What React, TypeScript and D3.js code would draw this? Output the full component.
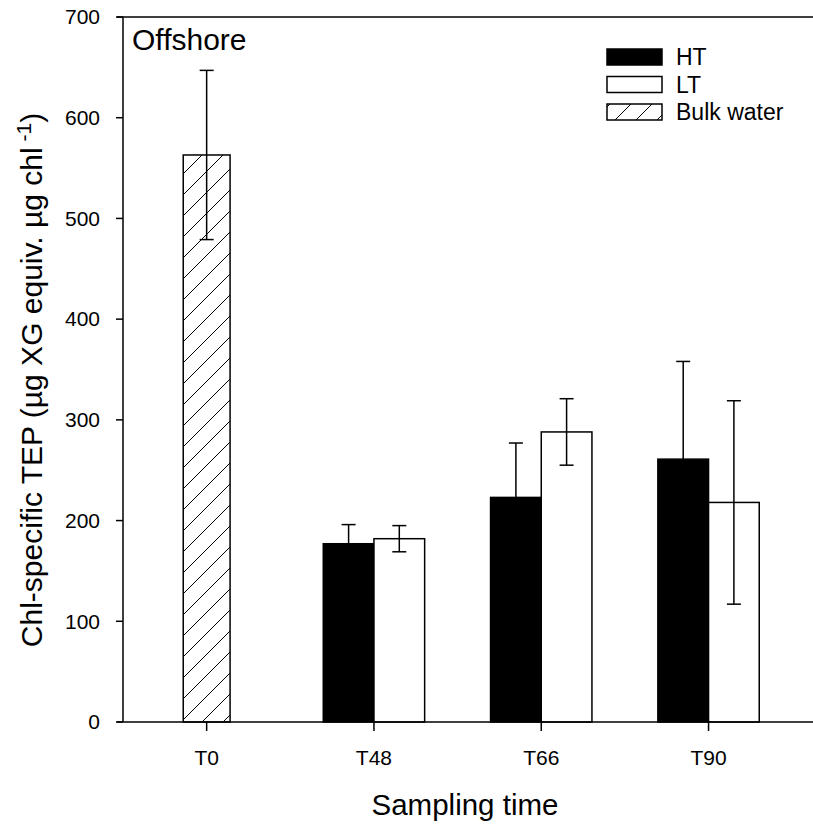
import React from "react";
import * as d3 from "d3";

// Sampling times and TEP values (µg XG equiv. µg chl-1), mean ± error
const categories = ["T0", "T48", "T66", "T90"];
const bulkMean: (number | null)[] = [563, null, null, null];
const bulkErr: (number | null)[] = [84, null, null, null];
const htMean: (number | null)[] = [null, 177, 223, 261];
const htErr: (number | null)[] = [null, 19, 54, 97];
const ltMean: (number | null)[] = [null, 182, 288, 218];
const ltErr: (number | null)[] = [null, 13, 33, 101];
const yTicks = [0, 100, 200, 300, 400, 500, 600, 700];
const legendItems = ["HT", "LT", "Bulk water"];

const W = 813;
const H = 827;
const margin = { left: 123, top: 17, bottomY: 722 };
const FONT = "'Liberation Sans', Arial, sans-serif";

export default function App() {
  const x = d3
    .scaleBand<string>()
    .domain(categories)
    .range([margin.left, margin.left + 4 * 167.3])
    .padding(0);
  const y = d3.scaleLinear().domain([0, 700]).range([margin.bottomY, margin.top]);
  const bw = x.bandwidth();
  const barW = bw * 0.303;
  const bulkW = bw * 0.28;
  const sub = d3.scaleBand<string>().domain(["HT", "LT"]).range([-barW, barW]);
  const cx = (c: string) => (x(c) ?? 0) + bw / 2;
  const capHalf = 7;

  const errorBar = (xc: number, m: number, e: number, key: string) => (
    <g key={key} stroke="#000" strokeWidth={1.5}>
      <line x1={xc} x2={xc} y1={y(m + e)} y2={y(m - e)} />
      <line x1={xc - capHalf} x2={xc + capHalf} y1={y(m + e)} y2={y(m + e)} />
      <line x1={xc - capHalf} x2={xc + capHalf} y1={y(m - e)} y2={y(m - e)} />
    </g>
  );

  const legendX = 607;
  const legendRowY = (i: number) => 57 + i * 27.5;

  return (
    <svg
      width={W}
      height={H}
      style={{ position: "absolute", left: 0, top: 0, background: "#fff" }}
      fontFamily={FONT}
    >
      <defs>
        <pattern id="hatch" patternUnits="userSpaceOnUse" width={21} height={21}>
          <rect width={21} height={21} fill="#fff" />
          <path
            d="M0,21 L21,0 M-5,5 L5,-5 M16,26 L26,16"
            stroke="#000"
            strokeWidth={1}
          />
        </pattern>
      </defs>

      {/* bars */}
      {categories.map((c, i) => {
        const xc = cx(c);
        const els: React.ReactNode[] = [];
        const b = bulkMean[i];
        if (b != null) {
          els.push(
            <rect
              key={"b" + i}
              x={xc - bulkW / 2}
              y={y(b)}
              width={bulkW}
              height={y(0) - y(b)}
              fill="url(#hatch)"
              stroke="#000"
              strokeWidth={1.5}
            />
          );
        }
        const h = htMean[i];
        if (h != null) {
          els.push(
            <rect
              key={"h" + i}
              x={xc + (sub("HT") ?? 0)}
              y={y(h)}
              width={sub.bandwidth()}
              height={y(0) - y(h)}
              fill="#000"
              stroke="#000"
              strokeWidth={1.5}
            />
          );
        }
        const l = ltMean[i];
        if (l != null) {
          els.push(
            <rect
              key={"l" + i}
              x={xc + (sub("LT") ?? 0)}
              y={y(l)}
              width={sub.bandwidth()}
              height={y(0) - y(l)}
              fill="#fff"
              stroke="#000"
              strokeWidth={1.5}
            />
          );
        }
        return <g key={c}>{els}</g>;
      })}

      {/* error bars */}
      {categories.map((c, i) => {
        const xc = cx(c);
        const out: React.ReactNode[] = [];
        if (bulkMean[i] != null && bulkErr[i] != null)
          out.push(errorBar(xc, bulkMean[i]!, bulkErr[i]!, "eb" + i));
        if (htMean[i] != null && htErr[i] != null)
          out.push(
            errorBar(xc + (sub("HT") ?? 0) + sub.bandwidth() / 2, htMean[i]!, htErr[i]!, "eh" + i)
          );
        if (ltMean[i] != null && ltErr[i] != null)
          out.push(
            errorBar(xc + (sub("LT") ?? 0) + sub.bandwidth() / 2, ltMean[i]!, ltErr[i]!, "el" + i)
          );
        return <g key={"e" + c}>{out}</g>;
      })}

      {/* frame lines */}
      <g stroke="#000" strokeWidth={1.5}>
        <line x1={117} x2={W} y1={y(700)} y2={y(700)} />
        <line x1={117} x2={W} y1={y(0)} y2={y(0)} />
        <line x1={margin.left} x2={margin.left} y1={y(700)} y2={y(0)} />
      </g>

      {/* y axis ticks and labels */}
      {yTicks.map((t) => (
        <g key={t}>
          <line x1={margin.left - 7} x2={margin.left} y1={y(t)} y2={y(t)} stroke="#000" strokeWidth={1.5} />
          <text
            x={100}
            y={y(t)}
            dy="0.35em"
            textAnchor="end"
            fontSize={21}
            fill="#000"
          >
            {t}
          </text>
        </g>
      ))}

      {/* x axis ticks and labels */}
      {categories.map((c) => (
        <g key={"x" + c}>
          <line x1={cx(c)} x2={cx(c)} y1={y(0)} y2={y(0) + 9} stroke="#000" strokeWidth={1.5} />
          <text x={cx(c)} y={765} textAnchor="middle" fontSize={21} fill="#000">
            {c}
          </text>
        </g>
      ))}

      {/* axis titles */}
      <text x={465} y={815} textAnchor="middle" fontSize={29.5} fill="#000">
        Sampling time
      </text>
      <text
        transform={`translate(42, 380) rotate(-90)`}
        textAnchor="middle"
        fontSize={30}
        fill="#000"
      >
        Chl-specific TEP (µg XG equiv. µg chl
        <tspan fontSize={21} dy={-11}>
          {" -1"}
        </tspan>
        <tspan dy={11}>)</tspan>
      </text>

      {/* panel label */}
      <text x={132} y={50} fontSize={30} fill="#000">
        Offshore
      </text>

      {/* legend */}
      {legendItems.map((name, i) => (
        <g key={name}>
          <rect
            x={legendX}
            y={legendRowY(i) - 8}
            width={55}
            height={16}
            fill={i === 0 ? "#000" : i === 1 ? "#fff" : "url(#hatch)"}
            stroke="#000"
            strokeWidth={1.5}
          />
          <text x={676} y={legendRowY(i)} dy="0.35em" fontSize={23} fill="#000">
            {name}
          </text>
        </g>
      ))}
    </svg>
  );
}
